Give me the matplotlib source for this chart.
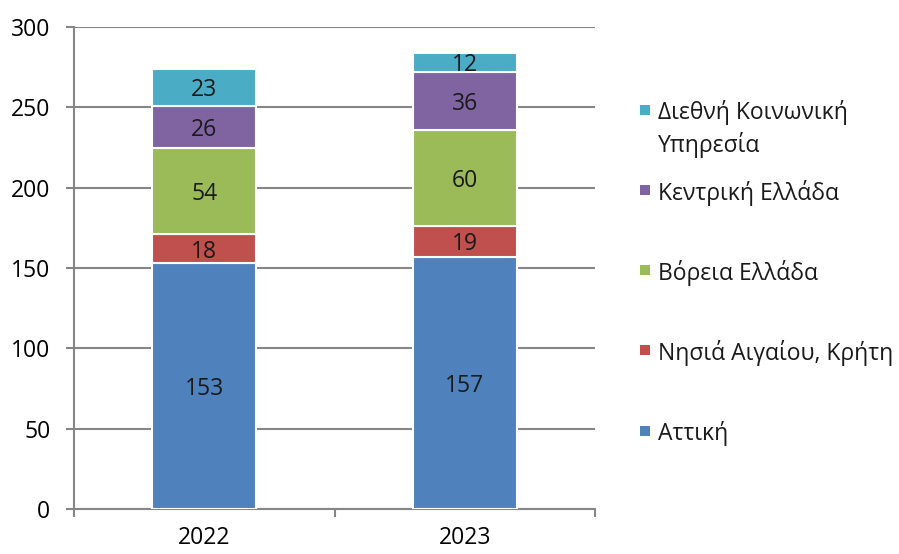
import numpy as np
import matplotlib.pyplot as plt
from matplotlib.patches import Rectangle

plt.rcParams['font.family'] = ['Open Sans', 'DejaVu Sans']

years = ['2022', '2023']
regions = ['Αττική', 'Νησιά Αιγαίου, Κρήτη', 'Βόρεια Ελλάδα',
           'Κεντρική Ελλάδα', 'Διεθνή Κοινωνική\nΥπηρεσία']
attiki = [153, 157]
nisia = [18, 19]
voreia = [54, 60]
kentriki = [26, 36]
diethni = [23, 12]
colors = ['#4F81BD', '#C0504D', '#9BBB59', '#8064A2', '#4BACC6']

series = [attiki, nisia, voreia, kentriki, diethni]
W, H = 899, 554
FS = 16.5

fig = plt.figure(figsize=(W / 100, H / 100), dpi=100)
ax = fig.add_axes([74 / W, 1 - 509 / H, 521 / W, 482 / H])

x = np.arange(len(years))
bottom = np.zeros(len(years))
for vals, col in zip(series, colors):
    bars = ax.bar(x, vals, width=0.4, bottom=bottom, color=col,
                  edgecolor='white', linewidth=1.5, zorder=3)
    for b, v, b0 in zip(bars, vals, bottom):
        ax.text(b.get_x() + b.get_width() / 2, b0 + v / 2, str(v),
                ha='center', va='center_baseline', fontsize=FS,
                color='#1a1a1a', zorder=4)
    bottom += np.array(vals)

ax.set_xlim(-0.5, 1.5)
ax.set_ylim(0, 300)
ax.set_yticks(range(0, 301, 50))
ax.set_xticks([-0.5, 0.5, 1.5])
ax.set_xticklabels(['', '', ''])
ax.set_xticks(x, minor=True)
ax.set_xticklabels(years, minor=True)
ax.tick_params(axis='x', which='minor', length=0, pad=12, labelsize=FS)
ax.tick_params(axis='x', which='major', length=6, width=1.5, color='#868686')
ax.tick_params(axis='y', length=6, width=1.5, color='#868686', labelsize=FS, pad=11)

ax.grid(axis='y', color='#868686', linewidth=1.5, zorder=0)
for s in ['top', 'right']:
    ax.spines[s].set_visible(False)
for s in ['left', 'bottom']:
    ax.spines[s].set_color('#868686')
    ax.spines[s].set_linewidth(1.5)

# legend, drawn by hand: top entry first, marker on the first text line
legend_y = [110, 190, 270, 350, 431]
for ypx, lab, col in zip(legend_y, regions[::-1], colors[::-1]):
    fig.patches.append(Rectangle((640 / W, 1 - (ypx + 5) / H), 10 / W, 10 / H,
                                 transform=fig.transFigure, facecolor=col,
                                 edgecolor='none'))
    for k, line in enumerate(lab.split('\n')):
        fig.text(658 / W, 1 - (ypx + 32 * k) / H, line, fontsize=FS,
                 ha='left', va='center_baseline', color='#1a1a1a')

fig.savefig('out.png', dpi=100)
